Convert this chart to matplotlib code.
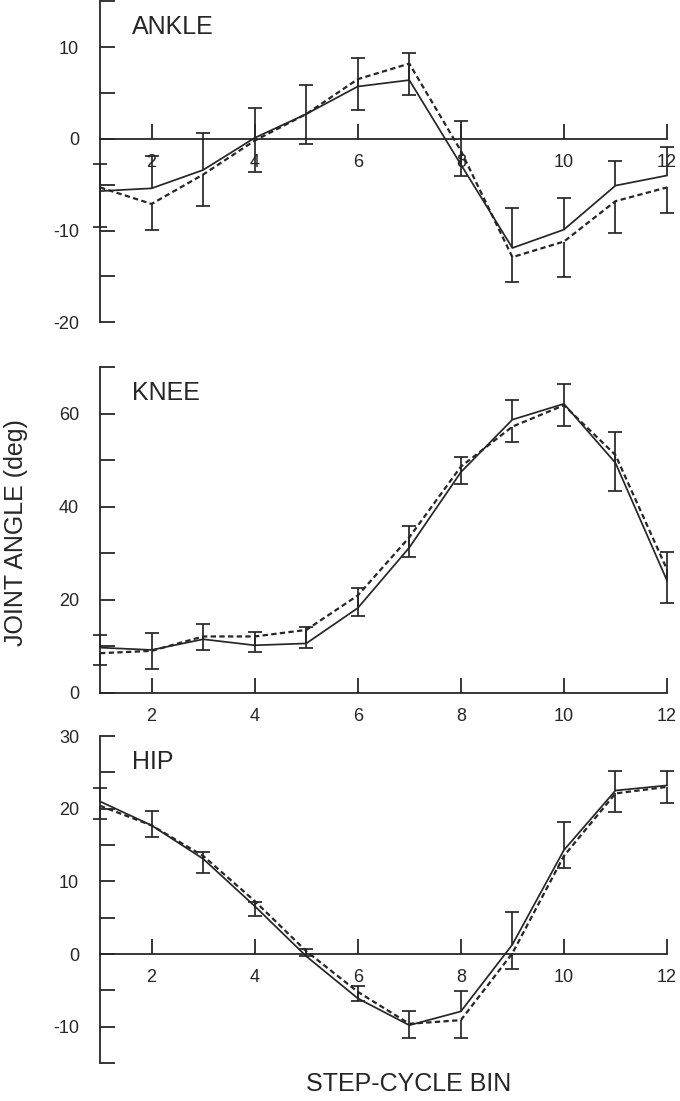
import numpy as np
import matplotlib
matplotlib.use('Agg')
import matplotlib.pyplot as plt
from matplotlib.ticker import MultipleLocator

plt.rcParams['font.family'] = ['Liberation Sans', 'DejaVu Sans']
plt.rcParams['axes.unicode_minus'] = False

ink = '#262626'

# step-cycle bins
bins = np.arange(1, 13)

# ankle: solid and dashed means, SD drawn up from solid and down from dashed
ankle_solid = [-5.7, -5.4, -3.4, 0.1, 2.7, 5.7, 6.4, -2.8, -11.9, -9.9, -5.1, -4.0]
ankle_dashed = [-5.3, -7.1, -3.9, -0.2, 2.7, 6.5, 8.2, -1.3, -12.9, -11.2, -6.8, -5.3]
ankle_sd_up = [3.0, 3.5, 4.0, 3.3, 3.2, 3.1, 2.9, 4.7, 4.4, 3.5, 2.7, 3.1]
ankle_sd_dn = [4.3, 2.8, 3.4, 3.4, 3.3, 3.4, 3.4, 2.8, 2.7, 3.9, 3.5, 2.8]

# knee
knee_solid = [9.7, 9.2, 11.5, 10.2, 10.6, 18.2, 31.2, 47.4, 58.7, 62.1, 49.4, 24.1]
knee_dashed = [8.5, 9.0, 12.1, 12.1, 13.5, 20.9, 33.4, 48.6, 57.2, 61.8, 51.1, 26.5]
knee_sd_up = [2.7, 3.7, 3.2, 2.8, 3.6, 4.4, 4.6, 3.2, 4.3, 4.3, 6.6, 6.1]
knee_sd_dn = [2.5, 3.8, 3.0, 3.4, 3.8, 4.4, 4.3, 3.7, 3.2, 4.4, 7.7, 7.3]

# hip
hip_solid = [21.0, 17.7, 13.1, 6.6, -0.3, -6.1, -9.8, -7.9, 1.3, 14.3, 22.5, 23.2]
hip_dashed = [20.4, 17.7, 13.5, 7.3, 0.4, -5.2, -9.6, -9.1, 0.1, 13.5, 22.1, 23.0]
hip_sd_up = [1.8, 2.0, 1.0, 0.6, 1.0, 1.7, 2.0, 2.8, 4.5, 3.8, 2.7, 2.0]
hip_sd_dn = [1.8, 1.6, 2.4, 2.0, 0.7, 1.2, 1.9, 2.5, 2.2, 1.7, 2.5, 2.2]

xticks = [2, 4, 6, 8, 10, 12]


def draw_panel(ax, name, solid, dashed, sd_up, sd_dn, ylim, major, minor):
    solid = np.array(solid)
    dashed = np.array(dashed)
    top = solid + np.array(sd_up)
    bot = dashed - np.array(sd_dn)

    ax.plot(bins, solid, color=ink, lw=1.25, clip_on=False, zorder=3)
    ax.plot(bins, dashed, color=ink, lw=1.6, ls=(0, (2.4, 1.5)), clip_on=False, zorder=3)

    # error bars: upward on solid, downward on dashed
    ax.vlines(bins, solid, top, color=ink, lw=1.25, clip_on=False, zorder=3)
    ax.vlines(bins, bot, dashed, color=ink, lw=1.25, clip_on=False, zorder=3)
    ax.plot(bins, top, ls='none', marker='_', ms=10, mew=1.25, color=ink, clip_on=False, zorder=3)
    ax.plot(bins, bot, ls='none', marker='_', ms=10, mew=1.25, color=ink, clip_on=False, zorder=3)

    ax.set_xlim(1, 12)
    ax.set_ylim(*ylim)
    ax.spines['top'].set_visible(False)
    ax.spines['right'].set_visible(False)
    ax.spines['bottom'].set_position(('data', 0))
    for s in ['left', 'bottom']:
        ax.spines[s].set_linewidth(1.3)
        ax.spines[s].set_color(ink)

    ax.set_xticks(xticks)
    ax.yaxis.set_major_locator(MultipleLocator(major))
    ax.yaxis.set_minor_locator(MultipleLocator(minor))
    ax.tick_params(axis='x', direction='in', length=11, width=1.3, pad=11,
                   labelsize=13, color=ink, labelcolor=ink)
    ax.tick_params(axis='y', which='both', direction='in', length=11, width=1.3,
                   pad=15, labelsize=13, color=ink, labelcolor=ink)
    ax.patch.set_visible(False)

    ax.annotate(name, xy=(0, 1), xycoords='axes fraction', xytext=(23, -10),
                textcoords='offset points', va='top', ha='left', fontsize=18, color=ink)


fig = plt.figure(figsize=(6.8, 11.01), dpi=100)
left, width = 0.1471, 0.8338
ax1 = fig.add_axes([left, 0.7073, width, 0.2916])
ax2 = fig.add_axes([left, 0.3708, width, 0.2958])
ax3 = fig.add_axes([left, 0.0345, width, 0.2970])

draw_panel(ax1, 'ANKLE', ankle_solid, ankle_dashed, ankle_sd_up, ankle_sd_dn, (-20, 15), 10, 5)
draw_panel(ax2, 'KNEE', knee_solid, knee_dashed, knee_sd_up, knee_sd_dn, (0, 70), 20, 10)
draw_panel(ax3, 'HIP', hip_solid, hip_dashed, hip_sd_up, hip_sd_dn, (-15, 30), 10, 5)

fig.text(16 / 680, 1 - 533 / 1101, 'JOINT ANGLE (deg)', rotation=90,
         ha='center', va='center', fontsize=18, color=ink)
fig.text(409 / 680, 1 - 1084 / 1101, 'STEP-CYCLE BIN',
         ha='center', va='center', fontsize=18, color=ink)

fig.savefig('out.png', dpi=100)
